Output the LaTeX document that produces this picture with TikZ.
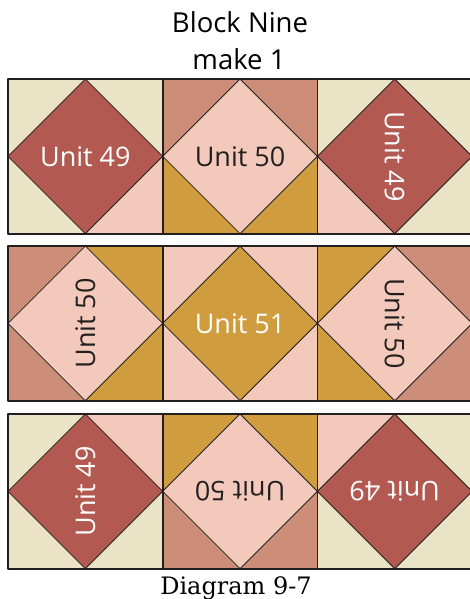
\documentclass[tikz,border=0pt]{standalone}
\usepackage{fontspec}
\setmainfont{Open Sans}
\newfontfamily\capfont{DejaVu Serif}
\definecolor{cream}{HTML}{EBE3C6}
\definecolor{brick}{HTML}{B25A51}
\definecolor{blush}{HTML}{F3C9BC}
\definecolor{rose}{HTML}{CC8E79}
\definecolor{mustard}{HTML}{CF9C3E}
\definecolor{ink}{HTML}{231F20}
\begin{document}
\begin{tikzpicture}[x=1pt, y=-1pt, line join=round, line cap=round,
  seam/.style={draw=ink, line width=0.8pt},
  edge/.style={draw=ink, line width=1.6pt},
  unitlab/.style={font=\fontsize{27}{30}\selectfont, inner sep=0pt}]
\useasboundingbox (0,0) rectangle (469,599);
\def\s{154.7}
\node[anchor=base, font=\fontsize{27.5}{30}\selectfont] (title) at (240,33) {Block Nine};
\node[anchor=base, font=\fontsize{27.5}{30}\selectfont] (make) at (239,70) {make 1};
% squares: corner/ diamond colours, label
\foreach \x/\y/\dc/\tl/\tr/\bl/\br/\lab/\rot/\tc [count=\i] in {
  8/79/brick/cream/cream/cream/blush/Unit 49/0/white,
  162.7/79/blush/rose/rose/mustard/mustard/Unit 50/0/ink,
  317.4/79/brick/cream/cream/blush/cream/Unit 49/-90/white,
  8/246/blush/rose/mustard/rose/mustard/Unit 50/90/ink,
  162.7/246/mustard/blush/blush/blush/blush/Unit 51/0/white,
  317.4/246/blush/mustard/rose/mustard/rose/Unit 50/-90/ink,
  8/414/brick/cream/blush/cream/cream/Unit 49/90/white,
  162.7/414/blush/mustard/mustard/rose/rose/Unit 50/180/ink,
  317.4/414/brick/blush/cream/cream/cream/Unit 49/180/white}
{
  \pgfmathsetmacro\xm{\x+\s/2}
  \pgfmathsetmacro\xr{\x+\s}
  \pgfmathsetmacro\ym{\y+\s/2}
  \pgfmathsetmacro\yb{\y+\s}
  \fill[\tl] (\x,\y) rectangle (\xm,\ym);
  \fill[\tr] (\xm,\y) rectangle (\xr,\ym);
  \fill[\bl] (\x,\ym) rectangle (\xm,\yb);
  \fill[\br] (\xm,\ym) rectangle (\xr,\yb);
  \filldraw[fill=\dc, seam] (\xm,\y) -- (\xr,\ym) -- (\xm,\yb) -- (\x,\ym) -- cycle;
  \node[unitlab, text=\tc, rotate=\rot] (unit\i) at (\xm,\ym) {\lab};
}
\foreach \x in {8,162.7,317.4}
  \foreach \y in {79,246,414}
    \draw[edge] (\x,\y) rectangle ++(\s,\s);
\node[anchor=base, font=\capfont\fontsize{24}{26}\selectfont] (caption) at (236,594) {Diagram 9-7};
\end{tikzpicture}
\end{document}
